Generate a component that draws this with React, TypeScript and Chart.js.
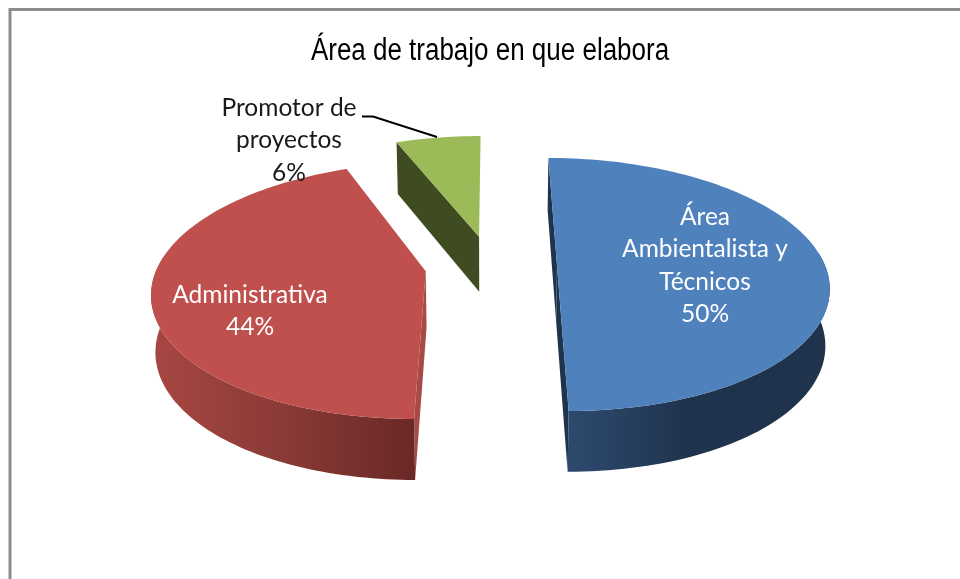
import React, { useEffect, useRef } from "react";
import { Chart, registerables } from "chart.js";

Chart.register(...registerables);

const categories = ["Área Ambientalista y Técnicos", "Administrativa", "Promotor de proyectos"];
const values = [50, 44, 6];
const labelLines = [
  ["Área", "Ambientalista y", "Técnicos"],
  ["Administrativa"],
  ["Promotor de", "proyectos"],
];
const titleText = "Área de trabajo en que elabora";

const topColors = ["#4f81bd", "#c0504d", "#9bbb59"];
const radialColors = ["#1f334d", "#a84a46", "#3f4c22"];
const wallGradients = [
  ["#2f4e74", "#1f334d", "#1f334d"],
  ["#a84743", "#8a3a37", "#6a2826"],
  ["#3f4c22", "#3f4c22", "#3f4c22"],
];
const labelColors = ["#ffffff", "#ffffff", "#1a1a1a"];
const labelAnchors = [
  { x: 705, y: 217 },
  { x: 250, y: 295 },
  { x: 289, y: 108 },
];

const CX = 491;
const CY = 265.5;
const R = 268;
const EXPLODE = 66;
const TILT = 0.4614;
const PERSP = 0.15;
const DEPTH = 56;
const SHRINK = 0.987;
const LH = 32.5;

type P = { x: number; y: number };

function project(u: number, v: number, low: boolean): P {
  const f = 1 / (1 - (PERSP * v) / R);
  const s = low ? SHRINK : 1;
  return {
    x: CX + u * f * s,
    y: CY + v * TILT * f + (low ? DEPTH * Math.sqrt(f) : 0),
  };
}

function trace(ctx: CanvasRenderingContext2D, pts: P[]) {
  ctx.beginPath();
  pts.forEach((p, i) => (i ? ctx.lineTo(p.x, p.y) : ctx.moveTo(p.x, p.y)));
  ctx.closePath();
}

const pie3d = {
  id: "pie3d",
  beforeDatasetsDraw(chart: any) {
    const ctx: CanvasRenderingContext2D = chart.ctx;
    const arcs = chart.getDatasetMeta(0).data;
    const order = arcs.map((_: any, i: number) => i).reverse();
    ctx.save();
    for (const i of order) {
      const a = arcs[i];
      const mid = (a.startAngle + a.endAngle) / 2;
      const ox = Math.cos(mid) * EXPLODE;
      const oy = Math.sin(mid) * EXPLODE;
      const n = 120;
      const rimTop: P[] = [];
      const rimLow: P[] = [];
      const wallTop: P[] = [];
      const wallLow: P[] = [];
      for (let k = 0; k <= n; k++) {
        const t = a.startAngle + ((a.endAngle - a.startAngle) * k) / n;
        const u = ox + Math.cos(t) * R;
        const v = oy + Math.sin(t) * R;
        const top = project(u, v, false);
        const low = project(u, v, true);
        rimTop.push(top);
        rimLow.push(low);
        if (Math.sin(t) > -0.12) {
          wallTop.push(top);
          wallLow.push(low);
        }
      }
      const apexTop = project(ox, oy, false);
      const apexLow = project(ox, oy, true);

      ctx.fillStyle = radialColors[i];
      trace(ctx, [apexTop, rimTop[0], rimLow[0], apexLow]);
      ctx.fill();
      if (Math.sin(a.endAngle) > 0) {
        trace(ctx, [apexTop, rimTop[n], rimLow[n], apexLow]);
        ctx.fill();
      }

      if (wallTop.length > 1) {
        const xs = rimTop.map((p) => p.x);
        const g = ctx.createLinearGradient(Math.min(...xs), 0, Math.max(...xs), 0);
        const stops = wallGradients[i];
        g.addColorStop(0, stops[0]);
        g.addColorStop(0.5, stops[1]);
        g.addColorStop(1, stops[2]);
        ctx.fillStyle = g;
        trace(ctx, [...wallTop, ...wallLow.slice().reverse()]);
        ctx.fill();
      }

      ctx.fillStyle = topColors[i];
      trace(ctx, [apexTop, ...rimTop]);
      ctx.fill();
    }
    ctx.restore();
    return false;
  },
  afterDraw(chart: any) {
    const ctx: CanvasRenderingContext2D = chart.ctx;
    ctx.save();
    ctx.strokeStyle = "#8c8c8c";
    ctx.lineWidth = 3;
    ctx.beginPath();
    ctx.moveTo(10, 579);
    ctx.lineTo(10, 9.5);
    ctx.lineTo(960, 9.5);
    ctx.stroke();

    ctx.strokeStyle = "#000000";
    ctx.lineWidth = 2;
    ctx.beginPath();
    ctx.moveTo(362, 116.5);
    ctx.lineTo(373, 116.5);
    ctx.lineTo(437, 137);
    ctx.stroke();

    ctx.save();
    ctx.translate(490, 60);
    ctx.scale(0.838, 1);
    ctx.textAlign = "center";
    ctx.textBaseline = "alphabetic";
    ctx.fillStyle = "#000000";
    ctx.font = "31px 'Liberation Sans'";
    ctx.fillText(titleText, 0, 0);
    ctx.restore();

    ctx.textAlign = "center";
    ctx.textBaseline = "middle";
    ctx.font = "24.5px Lato";
    const total = values.reduce((s, x) => s + x, 0);
    values.forEach((val, i) => {
      const lines = [...labelLines[i], `${Math.round((val / total) * 100)}%`];
      ctx.fillStyle = labelColors[i];
      lines.forEach((line, j) => {
        ctx.fillText(line, labelAnchors[i].x, labelAnchors[i].y + j * LH);
      });
    });
    ctx.restore();
  },
};

export default function App() {
  const ref = useRef<HTMLCanvasElement>(null);
  useEffect(() => {
    const chart = new Chart(ref.current!, {
      type: "pie",
      data: {
        labels: categories,
        datasets: [{ data: values, backgroundColor: topColors, borderWidth: 0 }],
      },
      options: {
        animation: false,
        responsive: false,
        plugins: {
          legend: { display: false },
          tooltip: { enabled: false },
          title: { display: false, text: titleText },
        },
      },
      plugins: [pie3d],
    } as any);
    return () => chart.destroy();
  }, []);
  return (
    <div style={{ position: "fixed", left: 0, top: 0, width: 960, height: 579, background: "#fff", overflow: "hidden" }}>
      <canvas ref={ref} width={960} height={579} style={{ display: "block", filter: "blur(0.5px)" }} />
    </div>
  );
}
